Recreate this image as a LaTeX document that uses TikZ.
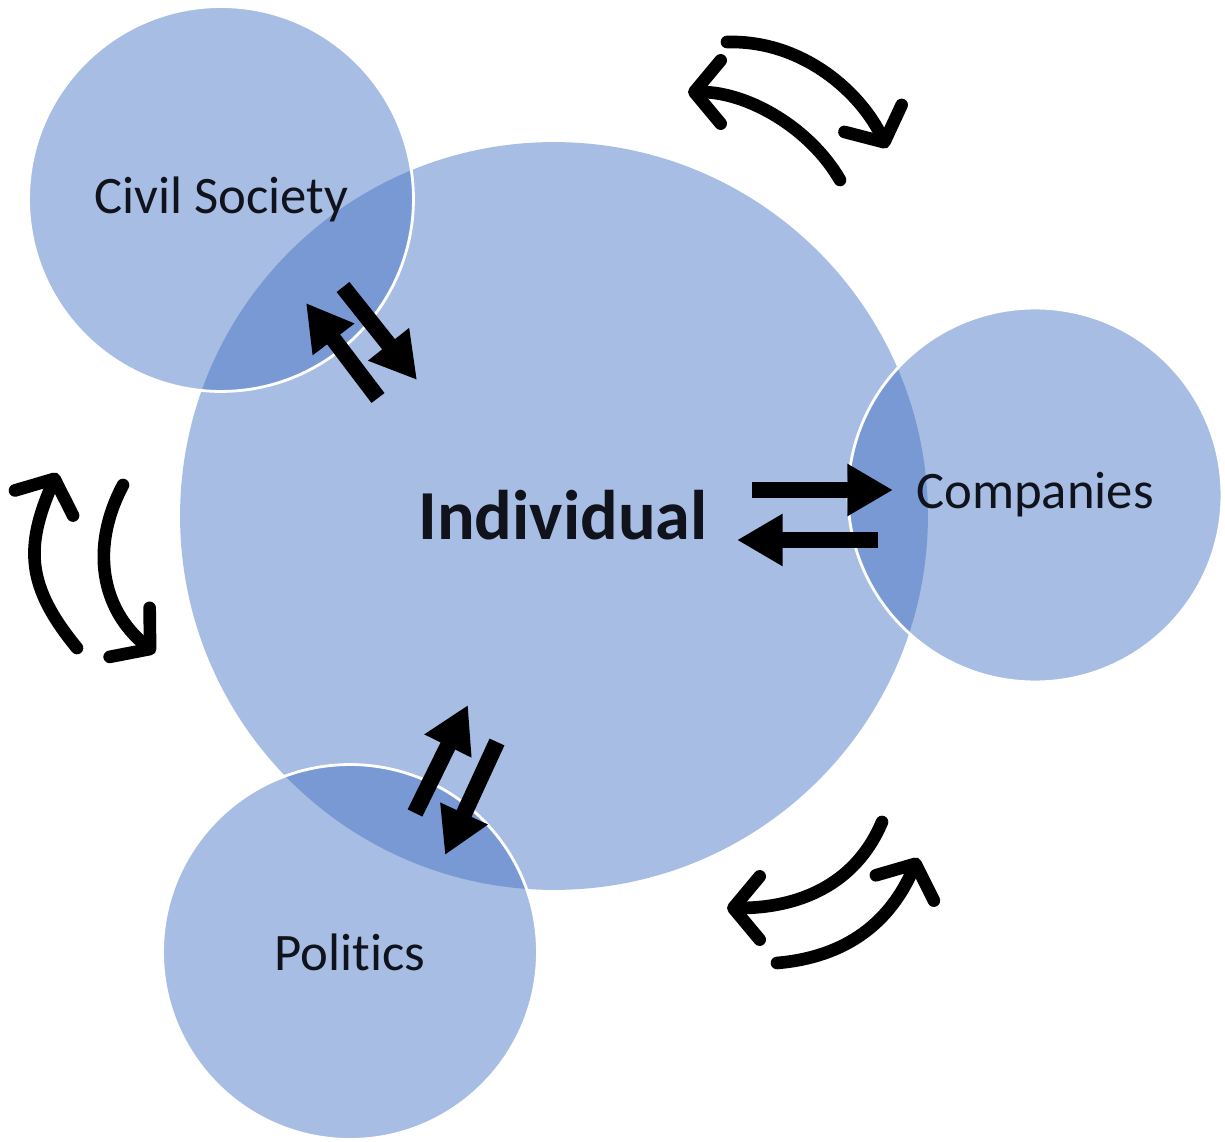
\documentclass[tikz,border=0pt]{standalone}
\usepackage{fontspec}
\setmainfont{Carlito}[Ligatures=NoCommon]
\usetikzlibrary{arrows.meta,positioning}
\definecolor{circblue}{HTML}{4472C4}
\definecolor{labeltext}{HTML}{10121C}

\tikzset{
  ring/.style={circle, inner sep=0pt, fill=circblue, fill opacity=0.47, text opacity=1},
  ringedge/.style={draw=white, draw opacity=1, line width=1.6pt},
  label/.style={text=labeltext, font=\fontsize{30}{36}\selectfont},
  bigarrow/.style={line width=9.3pt, -{Triangle[length=26pt,width=28pt]}},
  swing/.style={line width=7.2pt, line cap=round, -{Straight Barb[round,length=15pt,width=36pt]}},
}

\begin{document}
\begin{tikzpicture}[x=0.02cm,y=-0.02cm]
	\useasboundingbox (0,0) rectangle (1225,1142);
	%% circles
	\node[ring, minimum size=14.96cm] (ind) at (554,516) {};
	\node[ring, ringedge, minimum size=7.7cm] (civ) at (221,199) {};
	\node[ring, ringedge, minimum size=7.48cm] (com) at (1035,495) {};
	\node[ring, ringedge, minimum size=7.5cm] (pol) at (350,952) {};
	% labels
	\node[label] at (civ) {Civil Society};
	\node[label] at (com.center) {Companies};
	\node[label] at (pol.center) {Politics};
	\node[text=labeltext, font=\bfseries\fontsize{40}{48}\selectfont] (indl) at (563,515) {Individual};
	% straight arrows
	\coordinate (cs1) at (378,398);
	\coordinate (cs2) at (306,303);
	\coordinate (cs3) at (343,287);
	\coordinate (cs4) at (417,380);
	\coordinate (co1) at (752,490);
	\coordinate (co2) at (893,490);
	\coordinate (co3) at (878,540);
	\coordinate (co4) at (737,540);
	\coordinate (po1) at (415,813);
	\coordinate (po2) at (468,705);
	\coordinate (po3) at (497,742);
	\coordinate (po4) at (445,855);
	\draw[bigarrow] (cs1) -- (cs2);
	\draw[bigarrow] (cs3) -- (cs4);
	\draw[bigarrow] (co1) -- (co2);
	\draw[bigarrow] (co3) -- (co4);
	\draw[bigarrow] (po1) -- (po2);
	\draw[bigarrow] (po3) -- (po4);
	% curved arrows
	\coordinate (ta1) at (727,42);
	\coordinate (ta2) at (887,148);
	\coordinate (tb1) at (840,180);
	\coordinate (tb2) at (688,92);
	\coordinate (la1) at (77,648);
	\coordinate (la2) at (57,473);
	\coordinate (lb1) at (123,485);
	\coordinate (lb2) at (155,653);
	\coordinate (ba1) at (882,822);
	\coordinate (ba2) at (727,908);
	\coordinate (bb1) at (777,963);
	\coordinate (bb2) at (918,858);
	\draw[swing] (ta1) .. controls (805,40) and (862,95) .. (ta2);
	\draw[swing] (tb1) .. controls (810,128) and (748,92) .. (tb2);
	\draw[swing] (la1) .. controls (26,586) and (25,547) .. (la2);
	\draw[swing] (lb1) .. controls (90,547) and (101,609) .. (lb2);
	\draw[swing] (ba1) .. controls (855,886) and (797,908) .. (ba2);
	\draw[swing] (bb1) .. controls (847,957) and (890,922) .. (bb2);
\end{tikzpicture}
\end{document}
